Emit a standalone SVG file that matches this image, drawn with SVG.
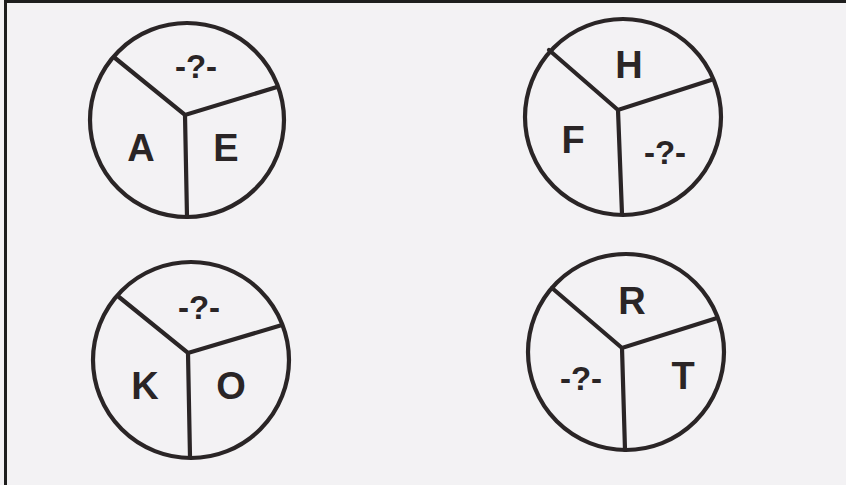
<svg xmlns="http://www.w3.org/2000/svg" width="846" height="485" viewBox="0 0 846 485">
<style>
.ring{fill:none;stroke:#2a2526;stroke-width:4.2}
.spoke{stroke:#2a2526;stroke-width:4.2;stroke-linecap:round;fill:none}
.lbl{font-family:"Liberation Sans",Arial,sans-serif;font-weight:bold;fill:#2a2526;text-anchor:middle}
.big{font-size:38px}
.q{font-size:33px}
</style>
<rect x="0" y="0" width="846" height="485" fill="#f3f2f4"/>
<path d="M5.5,485 V1.5 H846" fill="none" stroke="#1e1e1e" stroke-width="3"/>
<g id="circle-top-left">
<circle class="ring" cx="187" cy="120" r="97"/>
<path class="spoke" d="M115,58 L185,115 L277,87 M185,115 L187,217"/>
<text class="lbl q" x="196" y="78">-?-</text>
<text class="lbl big" x="141" y="161">A</text>
<text class="lbl big" x="226" y="161">E</text>
</g>
<g id="circle-top-right">
<circle class="ring" cx="623" cy="117" r="98"/>
<path class="spoke" d="M549,50 L618,110 L711,80 M618,110 L622,214"/>
<text class="lbl big" x="629" y="78">H</text>
<text class="lbl big" x="573" y="153">F</text>
<text class="lbl q" x="665" y="164">-?-</text>
</g>
<g id="circle-bottom-left">
<circle class="ring" cx="191" cy="360" r="98"/>
<path class="spoke" d="M119,297 L188,353 L282,325 M188,353 L190,457"/>
<text class="lbl q" x="199" y="319">-?-</text>
<text class="lbl big" x="145" y="399">K</text>
<text class="lbl big" x="231" y="399">O</text>
</g>
<g id="circle-bottom-right">
<circle class="ring" cx="626" cy="352" r="98"/>
<path class="spoke" d="M552,288 L622,348 L717,318 M622,348 L625,450"/>
<text class="lbl big" x="632" y="314">R</text>
<text class="lbl big" x="683" y="389">T</text>
<text class="lbl q" x="581" y="390">-?-</text>
</g>
</svg>
